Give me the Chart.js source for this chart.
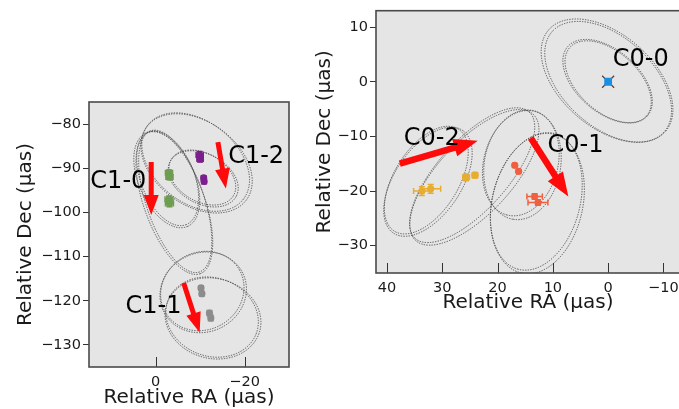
<!DOCTYPE html>
<html>
<head>
<meta charset="utf-8">
<script src="https://cdn.jsdelivr.net/npm/chart.js@4.4.1/dist/chart.umd.min.js"></script>
<style>
  html, body { margin: 0; padding: 0; background: #fff; overflow: hidden; }
  body { width: 679px; height: 409px; position: relative; }
  .panel { position: absolute; }
</style>
</head>
<body>
<div class="panel" style="left:0;top:0"><canvas id="c1" width="300" height="409"></canvas></div>
<div class="panel" style="left:300px;top:0"><canvas id="c0" width="395" height="314"></canvas></div>
<script>
// ---------- C1 panel (left) ----------
const c1RaTicks = [0, -20];
const c1DecTicks = [-130, -120, -110, -100, -90, -80];

const c10Ra = [-3.0, -3.1, -3.0, -3.1];
const c10Dec = [-91.0, -92.0, -97.0, -98.0];
const c10RaErr = [0.8, 0.8, 0.9, 0.9];
const c10DecErr = [0.6, 0.6, 0.7, 0.7];

const c12Ra = [-9.9, -10.0, -10.8, -10.9];
const c12Dec = [-87.0, -87.9, -92.2, -93.0];
const c12RaErr = [0.8, 0.7, 0.2, 0.2];
const c12DecErr = [0.8, 0.7, 0.5, 0.5];

const c11Ra = [-10.2, -10.4, -12.1, -12.4];
const c11Dec = [-117.1, -118.4, -122.8, -123.9];
const c11RaErr = [0.5, 0.5, 0.3, 0.3];
const c11DecErr = [0.5, 0.5, 0.6, 0.6];

// ellipses: ra, dec, semi-major, semi-minor, tilt (deg)
const c1Ellipses = [
    [-4.4, -97.5, 16.8, 6.5, 71], [-4.2, -97.8, 17.0, 6.8, 70],
    [-2.7, -92.3, 11.2, 6.0, 68], [-2.5, -92.6, 11.5, 6.3, 66],
    [-10.5, -117.8, 9.6, 8.7, -30], [-10.7, -118.1, 9.9, 8.9, -25],
    [-12.7, -123.7, 10.6, 8.8, 20], [-12.9, -124.0, 10.9, 9.0, 15],
    [-9.0, -88.6, 13.6, 9.2, 38], [-9.2, -88.9, 13.9, 9.4, 36],
    [-10.5, -92.1, 8.1, 5.4, 30], [-10.7, -92.4, 8.4, 5.6, 28]
];

// arrows: from ra, from dec, to ra, to dec
const c1Arrows = [
    [1.0, -88.6, 1.0, -100.6],
    [-6.3, -116.0, -9.9, -127.2],
    [-14.0, -84.1, -15.8, -94.6]
];
const c1Labels = ['C1-0', 'C1-1', 'C1-2'];
const c1LabelRa = [8.4, 0.5, -22.6];
const c1LabelDec = [-93.1, -121.3, -87.5];

// ---------- C0 panel (right) ----------
const c0RaTicks = [40, 30, 20, 10, 0, -10];
const c0DecTicks = [-30, -20, -10, 0, 10];

const c00Ra = [0];
const c00Dec = [0];

const c01Ra = [16.9, 16.2, 13.3, 12.7];
const c01Dec = [-15.3, -16.4, -21.0, -22.1];
const c01RaErr = [0.3, 0.3, 1.4, 1.8];
const c01DecErr = [0.3, 0.3, 0.5, 0.5];

const c02Ra = [33.7, 32.1, 25.7, 24.1];
const c02Dec = [-20.0, -19.6, -17.5, -17.1];
const c02RaErr = [1.5, 1.8, 0.6, 0.5];
const c02DecErr = [0.8, 0.8, 0.6, 0.5];

const c0Ellipses = [
    [0.0, 0.0, 13.6, 8.1, 42], [0.2, 0.2, 14.0, 8.4, 41],
    [0.0, 0.0, 9.3, 5.4, 42], [0.1, 0.1, 9.55, 5.6, 41],
    [13.0, -21.9, 12.7, 7.9, 105], [12.8, -22.3, 12.9, 8.2, 103],
    [15.8, -14.9, 9.7, 6.7, 105], [15.5, -15.2, 10.0, 6.9, 100],
    [32.9, -18.0, 10.9, 5.8, -58], [32.6, -18.3, 11.2, 6.0, -56],
    [24.6, -17.1, 15.4, 6.3, -48], [24.2, -17.5, 15.6, 6.6, -47]
];

const c0Arrows = [
    [37.7, -15.0, 23.6, -10.8],
    [14.0, -10.3, 7.2, -21.0]
];
const c0Labels = ['C0-0', 'C0-1', 'C0-2'];
const c0LabelRa = [-5.9, 5.9, 31.9];
const c0LabelDec = [4.1, -11.7, -10.5];

const FONT = "'DejaVu Sans', sans-serif";
const minus = v => String(v).replace('-', '\u2212');

function points(ra, dec) {
    return ra.map((r, i) => ({x: r, y: dec[i]}));
}

// extra drawing: background, ellipses, error bars, arrows, labels, frame
function decor(spec) {
    return {
        id: 'decor',
        beforeDraw(chart) {
            const a = chart.chartArea;
            const ctx = chart.ctx;
            ctx.save();
            ctx.fillStyle = '#e5e5e5';
            ctx.fillRect(a.left, a.top, a.right - a.left, a.bottom - a.top);
            ctx.restore();
        },
        beforeDatasetsDraw(chart) {
            const {ctx, chartArea: a, scales: {x, y}} = chart;
            const k = Math.abs(x.getPixelForValue(1) - x.getPixelForValue(0));
            ctx.save();
            ctx.beginPath();
            ctx.rect(a.left, a.top, a.right - a.left, a.bottom - a.top);
            ctx.clip();
            ctx.strokeStyle = 'rgba(70,70,70,0.9)';
            ctx.lineWidth = 1;
            ctx.setLineDash([1.3, 1.3]);
            for (const e of spec.ellipses) {
                ctx.beginPath();
                ctx.ellipse(x.getPixelForValue(e[0]), y.getPixelForValue(e[1]),
                    e[2] * k, e[3] * k, e[4] * Math.PI / 180, 0, 2 * Math.PI);
                ctx.stroke();
            }
            ctx.setLineDash([]);
            // error bars with caps
            ctx.lineWidth = 1.5;
            for (const eb of spec.errors) {
                ctx.strokeStyle = eb.color;
                eb.ra.forEach((r, i) => {
                    const px = x.getPixelForValue(r), py = y.getPixelForValue(eb.dec[i]);
                    const x0 = x.getPixelForValue(r - eb.raErr[i]), x1 = x.getPixelForValue(r + eb.raErr[i]);
                    const y0 = y.getPixelForValue(eb.dec[i] - eb.decErr[i]), y1 = y.getPixelForValue(eb.dec[i] + eb.decErr[i]);
                    ctx.beginPath();
                    ctx.moveTo(x0, py); ctx.lineTo(x1, py);
                    ctx.moveTo(x0, py - 3); ctx.lineTo(x0, py + 3);
                    ctx.moveTo(x1, py - 3); ctx.lineTo(x1, py + 3);
                    ctx.moveTo(px, y0); ctx.lineTo(px, y1);
                    ctx.moveTo(px - 3, y0); ctx.lineTo(px + 3, y0);
                    ctx.moveTo(px - 3, y1); ctx.lineTo(px + 3, y1);
                    ctx.stroke();
                });
            }
            ctx.restore();
        },
        afterDatasetsDraw(chart) {
            const {ctx, chartArea: a, scales: {x, y}} = chart;
            ctx.save();
            // red arrows
            ctx.fillStyle = '#ff0a0a';
            for (const ar of spec.arrows) {
                const sx = x.getPixelForValue(ar[0]), sy = y.getPixelForValue(ar[1]);
                const tx = x.getPixelForValue(ar[2]), ty = y.getPixelForValue(ar[3]);
                const len = Math.hypot(tx - sx, ty - sy);
                const ux = (tx - sx) / len, uy = (ty - sy) / len;
                const nx = -uy, ny = ux;
                const bx = tx - ux * spec.headLen, by = ty - uy * spec.headLen;
                const w = spec.shaft / 2, h = spec.headWidth / 2;
                ctx.beginPath();
                ctx.moveTo(sx + nx * w, sy + ny * w);
                ctx.lineTo(bx + nx * w, by + ny * w);
                ctx.lineTo(bx + nx * h, by + ny * h);
                ctx.lineTo(tx, ty);
                ctx.lineTo(bx - nx * h, by - ny * h);
                ctx.lineTo(bx - nx * w, by - ny * w);
                ctx.lineTo(sx - nx * w, sy - ny * w);
                ctx.closePath();
                ctx.fill();
            }
            // component names
            ctx.fillStyle = '#000';
            ctx.font = '24px ' + FONT;
            ctx.textAlign = 'center';
            ctx.textBaseline = 'middle';
            spec.labels.forEach((t, i) => {
                ctx.fillText(t, x.getPixelForValue(spec.labelRa[i]), y.getPixelForValue(spec.labelDec[i]));
            });
            // inward ticks on the RA axis
            ctx.strokeStyle = '#333';
            ctx.lineWidth = 1;
            for (const t of x.ticks) {
                const px = Math.round(x.getPixelForValue(t.value)) + 0.5;
                ctx.beginPath();
                ctx.moveTo(px, a.bottom);
                ctx.lineTo(px, a.bottom - 10);
                ctx.stroke();
            }
            // frame
            ctx.strokeStyle = '#4a4a4a';
            ctx.lineWidth = 1.6;
            ctx.strokeRect(a.left, a.top, a.right - a.left, a.bottom - a.top);
            ctx.restore();
        }
    };
}

function makePanel(id, p) {
    const ctx = document.getElementById(id).getContext('2d');
    return new Chart(ctx, {
        type: 'scatter',
        data: {
            datasets: p.sets.map(s => ({
                data: points(s.ra, s.dec),
                pointStyle: s.style || 'circle',
                pointRadius: s.radius || 3.6,
                pointBackgroundColor: s.color,
                pointBorderColor: s.border || s.color,
                pointBorderWidth: s.borderWidth || 0
            }))
        },
        options: {
            responsive: false,
            animation: false,
            events: [],
            layout: {padding: {left: 0, top: p.top, right: p.right, bottom: 0}},
            plugins: {legend: {display: false}, tooltip: {enabled: false}},
            scales: {
                x: {
                    type: 'linear', reverse: true, min: p.xMin, max: p.xMax,
                    afterFit: s => { s.height = p.xHeight; },
                    afterBuildTicks: s => { s.ticks = p.xTicks.map(v => ({value: v})); },
                    grid: {display: false, drawTicks: false},
                    border: {display: false},
                    ticks: {padding: 7, color: '#1a1a1a', font: {family: FONT, size: 14.5}, callback: minus, maxRotation: 0},
                    title: {display: true, text: 'Relative RA (\u03bcas)', color: '#1a1a1a',
                        font: {family: FONT, size: 20, lineHeight: 1}, padding: {top: 0, bottom: 1}}
                },
                y: {
                    type: 'linear', min: p.yMin, max: p.yMax,
                    afterFit: s => { s.width = p.yWidth; },
                    afterBuildTicks: s => { s.ticks = p.yTicks.map(v => ({value: v})); },
                    grid: {display: true, drawOnChartArea: false, drawTicks: true, tickLength: 6, color: '#333'},
                    border: {display: false},
                    ticks: {padding: 2, color: '#1a1a1a', font: {family: FONT, size: 14.5}, callback: minus},
                    title: {display: true, text: 'Relative Dec (\u03bcas)', color: '#1a1a1a',
                        font: {family: FONT, size: 20, lineHeight: 1}, padding: {top: p.yTitlePad, bottom: 0}}
                }
            }
        },
        plugins: [decor(p.decor)]
    });
}

makePanel('c1', {
    xMin: -30, xMax: 15, yMin: -135, yMax: -75,
    xTicks: c1RaTicks, yTicks: c1DecTicks,
    top: 102, right: 11, xHeight: 42, yWidth: 89, yTitlePad: 16,
    sets: [
        {ra: c10Ra, dec: c10Dec, color: '#6e9c50'},
        {ra: c12Ra, dec: c12Dec, color: '#7b1f8c'},
        {ra: c11Ra, dec: c11Dec, color: '#8c8c8c'}
    ],
    decor: {
        ellipses: c1Ellipses, arrows: c1Arrows, shaft: 5, headWidth: 15, headLen: 20,
        labels: c1Labels, labelRa: c1LabelRa, labelDec: c1LabelDec,
        errors: [
            {ra: c10Ra, dec: c10Dec, raErr: c10RaErr, decErr: c10DecErr, color: '#6e9c50'},
            {ra: c12Ra, dec: c12Dec, raErr: c12RaErr, decErr: c12DecErr, color: '#7b1f8c'},
            {ra: c11Ra, dec: c11Dec, raErr: c11RaErr, decErr: c11DecErr, color: '#8c8c8c'}
        ]
    }
});

makePanel('c0', {
    xMin: -13, xMax: 42, yMin: -35, yMax: 13,
    xTicks: c0RaTicks, yTicks: c0DecTicks,
    top: 8, right: 15, xHeight: 41, yWidth: 76, yTitlePad: 15,
    sets: [
        // blue square on top of a thin dark cross
        {ra: c00Ra, dec: c00Dec, color: '#1a8ee0', style: 'rect', radius: 5.5},
        {ra: c00Ra, dec: c00Dec, color: 'rgba(0,0,0,0)', border: '#5a3a3a', borderWidth: 1.2, style: 'crossRot', radius: 8.5},
        {ra: c01Ra, dec: c01Dec, color: '#f05f3f'},
        {ra: c02Ra, dec: c02Dec, color: '#e6ad30'}
    ],
    decor: {
        ellipses: c0Ellipses, arrows: c0Arrows, shaft: 6.5, headWidth: 18, headLen: 24,
        labels: c0Labels, labelRa: c0LabelRa, labelDec: c0LabelDec,
        errors: [
            {ra: c01Ra, dec: c01Dec, raErr: c01RaErr, decErr: c01DecErr, color: '#f05f3f'},
            {ra: c02Ra, dec: c02Dec, raErr: c02RaErr, decErr: c02DecErr, color: '#e6ad30'}
        ]
    }
});
</script>
</body>
</html>
